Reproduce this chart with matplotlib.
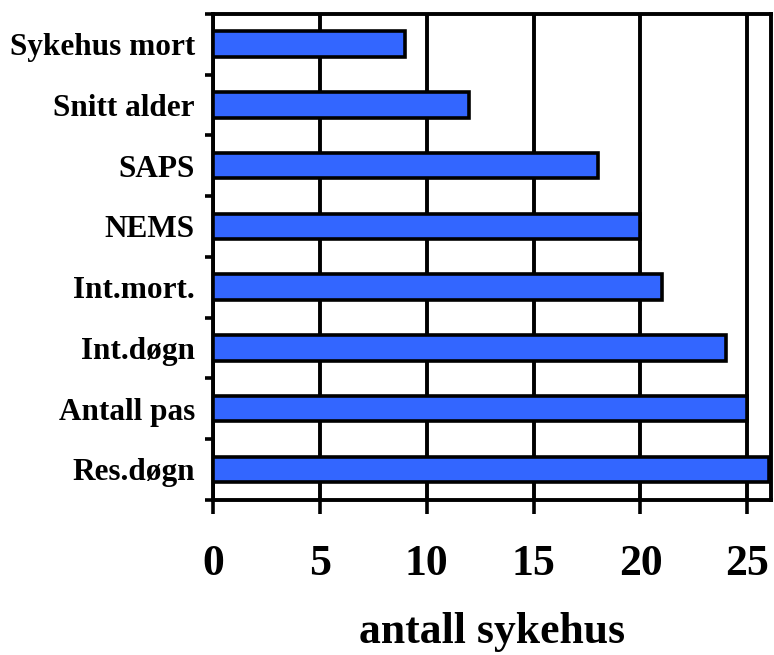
import matplotlib
matplotlib.use("Agg")
import matplotlib.pyplot as plt
import numpy as np

categories = ["Sykehus mort", "Snitt alder", "SAPS", "NEMS", "Int.mort.", "Int.døgn", "Antall pas", "Res.døgn"]
values = [9, 12, 18, 20, 21, 24, 25, 26]
xticks = [0, 5, 10, 15, 20, 25]

plt.rcParams['font.family'] = ['Liberation Serif', 'DejaVu Serif']
plt.rcParams['font.weight'] = 'bold'

fig = plt.figure(figsize=(7.74, 6.55), dpi=100)
ax = fig.add_axes([0.275, 0.237, 0.721, 0.742])

y = np.arange(len(categories))
ax.barh(y, values, height=0.42, color='#3366FF', edgecolor='black', linewidth=2.6, zorder=3)

ax.set_xlim(0, 26.1)
ax.set_ylim(len(categories) - 0.5, -0.5)

ax.set_xticks(xticks)
ax.set_xticklabels([str(t) for t in xticks], fontsize=31.5, fontweight='bold')
ax.tick_params(axis='x', direction='out', length=10, width=2.6, pad=22)
ax.xaxis.grid(True, color='black', linewidth=2.8, zorder=1)
ax.set_axisbelow(True)

ax.set_yticks(y)
ax.set_yticklabels(categories, fontsize=22.5, fontweight='bold')
ax.tick_params(axis='y', which='major', length=0, pad=13)
ax.set_yticks(np.arange(len(categories) + 1) - 0.5, minor=True)
ax.tick_params(axis='y', which='minor', direction='out', length=6, width=2.6)

for s in ax.spines.values():
    s.set_linewidth(2.8)
    s.set_color('black')

ax.set_xlabel("antall sykehus", fontsize=31.5, fontweight='bold', labelpad=20)

fig.savefig("out.png", dpi=100)
